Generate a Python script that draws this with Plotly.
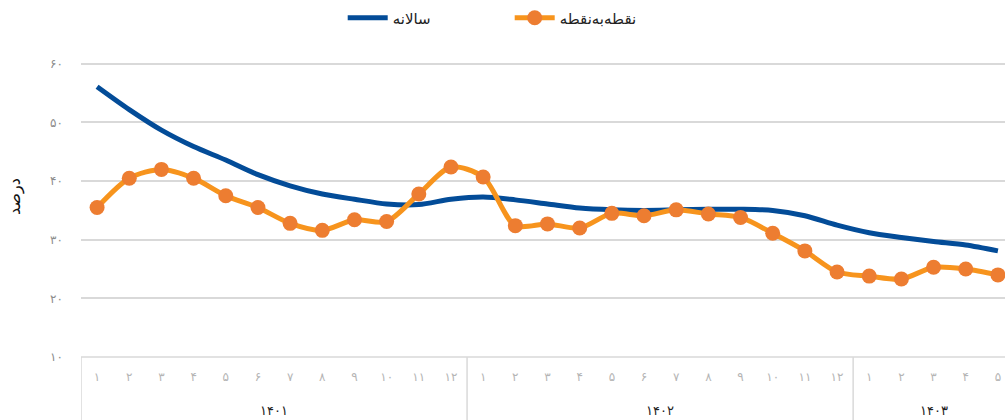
import plotly.graph_objects as go

months = ["۱","۲","۳","۴","۵","۶","۷","۸","۹","۱۰","۱۱","۱۲",
          "۱","۲","۳","۴","۵","۶","۷","۸","۹","۱۰","۱۱","۱۲",
          "۱","۲","۳","۴","۵"]
years = ["۱۴۰۱", "۱۴۰۲", "۱۴۰۳"]
year_counts = [12, 12, 5]

annual = [56.1, 52.2, 48.7, 45.9, 43.6, 41.1, 39.2, 37.8, 36.9, 36.1, 36.0, 36.9,
          37.3, 36.8, 36.1, 35.4, 35.1, 35.0, 35.1, 35.2, 35.2, 35.0, 34.1, 32.5,
          31.2, 30.4, 29.7, 29.1, 28.1]
p2p = [35.5, 40.5, 42.0, 40.5, 37.5, 35.5, 32.8, 31.6, 33.4, 33.1, 37.8, 42.4,
       40.7, 32.4, 32.7, 32.0, 34.5, 34.1, 35.1, 34.4, 33.8, 31.1, 28.1, 24.5,
       23.8, 23.3, 25.3, 25.0, 24.0]
ytick_vals = [10, 20, 30, 40, 50, 60]
ytick_text = ["۱۰", "۲۰", "۳۰", "۴۰", "۵۰", "۶۰"]

x = list(range(len(months)))
FONT = "DejaVu Sans, Noto Sans, sans-serif"

fig = go.Figure()
fig.add_trace(go.Scatter(
    x=x, y=annual, name="سالانه", mode="lines",
    line=dict(color="#034C98", width=5, shape="spline", smoothing=0.8),
))
fig.add_trace(go.Scatter(
    x=x, y=p2p, name="نقطه‌به‌نقطه", mode="lines+markers",
    line=dict(color="#F7941D", width=5, shape="spline", smoothing=0.8),
    marker=dict(color="#ED7D31", size=15),
))

shapes = []
grid = "#D9D9D9"
shapes.append(dict(type="line", xref="paper", yref="paper", x0=0, x1=1, y0=0, y1=0,
                   line=dict(color=grid, width=1.5)))
start = 0
for cnt in year_counts:
    shapes.append(dict(type="line", xref="x", yref="paper",
                       x0=start - 0.5, x1=start - 0.5, y0=0, y1=-0.23,
                       line=dict(color=grid, width=1.5)))
    start += cnt
shapes.append(dict(type="line", xref="x", yref="paper",
                   x0=start - 0.5, x1=start - 0.5, y0=0, y1=-0.23,
                   line=dict(color=grid, width=1.5)))

annotations = []
start = 0
for yl, cnt in zip(years, year_counts):
    annotations.append(dict(x=start + (cnt - 1) / 2, y=-0.18, xref="x", yref="paper",
                            text=yl, showarrow=False, yanchor="middle",
                            font=dict(family=FONT, size=13, color="#222222")))
    start += cnt
annotations.append(dict(x=15, y=0.535, xref="paper", yref="paper", text="درصد",
                        textangle=-90, showarrow=False, xanchor="center",
                        font=dict(family=FONT, size=16, color="#111111")))
# place title by container pixel via xshift
annotations[-1]["x"] = 0
annotations[-1]["xshift"] = -66

fig.update_layout(
    width=1005, height=420,
    margin=dict(l=81, r=0, t=58, b=63),
    plot_bgcolor="white", paper_bgcolor="white",
    showlegend=True,
    legend=dict(orientation="h", xref="container", yref="container",
                x=0.341, xanchor="left", y=0.957, yanchor="middle",
                font=dict(family=FONT, size=15, color="#222222"),
                entrywidth=112, itemwidth=40),
    xaxis=dict(range=[-0.5, 28.22], tickvals=x, ticktext=months,
               showgrid=False, zeroline=False, showline=False,
               ticks="", ticklabelstandoff=11,
               tickfont=dict(family=FONT, size=12, color="#B5B5B5")),
    yaxis=dict(range=[10, 61], tickvals=ytick_vals, ticktext=ytick_text,
               showgrid=True, gridcolor=grid, gridwidth=1.5, zeroline=False,
               showline=False, ticks="", ticklabelstandoff=17,
               tickfont=dict(family=FONT, size=12, color="#8C8C8C")),
    shapes=shapes,
    annotations=annotations,
)

fig.write_html("out.html", config={"displayModeBar": False},
               post_script="document.body.style.margin='0';")
